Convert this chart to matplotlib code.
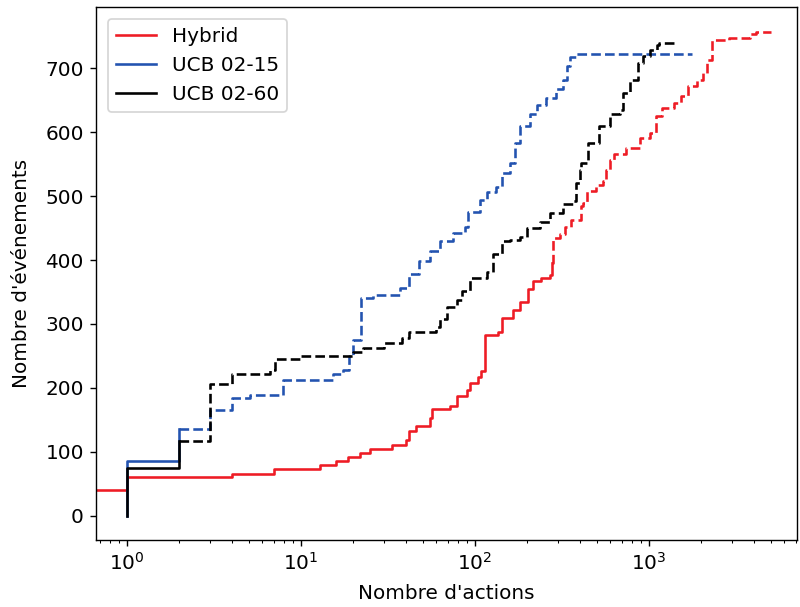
import numpy as np
import matplotlib
matplotlib.use('Agg')
import matplotlib.pyplot as plt

plt.rcParams['font.size'] = 11.5

# Hybrid: solid part then dashed part (step values, steps-post)
hyb_x_solid = [0, 1, 4, 7, 12.8, 16, 18.6, 21.8, 25, 33.5, 40, 42, 46, 55, 57, 71.5, 78.5,
               89.5, 93.5, 104, 109, 114, 135, 144, 165, 181, 201, 216, 240, 270, 279]
hyb_y_solid = [40, 60, 65, 73, 80, 86, 92, 98, 104, 110, 119, 132, 141, 153, 167, 172, 187,
               196, 208, 217, 226, 283, 288, 310, 322, 335, 354, 367, 372, 377, 396]
hyb_x_dash = [279, 280, 307, 330, 358, 405, 418, 438, 498, 545, 570, 595, 630, 740, 888,
              1010, 1103, 1195, 1390, 1530, 1680, 1890, 2040, 2150, 2290, 2890, 3790, 4100, 5000]
hyb_y_dash = [396, 435, 440, 451, 463, 484, 490, 508, 518, 524, 541, 557, 566, 576, 591,
              599, 625, 638, 646, 656, 672, 682, 693, 713, 744, 748, 753, 757, 757]

# UCB 02-15
u15_x_solid = [1, 1, 2]
u15_y_solid = [0, 85, 135]
u15_x_dash = [2, 3, 4, 5.1, 7.9, 15.3, 17.5, 19, 20, 22, 26, 37, 42, 48, 55, 63, 75, 88,
              91, 107, 117, 133, 144, 159, 170, 181, 206, 226, 257, 293, 321, 336, 352, 381, 1780]
u15_y_dash = [135, 166, 184, 189, 213, 222, 228, 250, 275, 341, 346, 356, 378, 399, 414, 429,
              443, 451, 475, 494, 507, 515, 536, 552, 583, 609, 628, 643, 654, 667, 682, 703,
              717, 722, 722]

# UCB 02-60
u60_x_solid = [1, 1, 2]
u60_y_solid = [0, 75, 117]
u60_x_dash = [2, 3, 4, 6.6, 7.1, 10, 20, 22.7, 30, 38, 42, 60, 63, 69, 79, 84, 94, 117, 127,
              144, 160, 181, 198, 237, 270, 321, 365, 381, 400, 408, 447, 518, 595, 680, 705,
              780, 860, 920, 1020, 1120, 1150, 1460]
u60_y_dash = [117, 206, 222, 228, 245, 250, 256, 263, 270, 278, 287, 295, 307, 327, 338, 351,
              372, 381, 410, 429, 432, 436, 450, 460, 474, 487, 492, 520, 541, 552, 583, 609,
              628, 635, 662, 682, 709, 719, 729, 737, 739, 739]

c_red = '#ee1c25'
c_blue = '#2353b0'
c_black = 'black'

fig = plt.figure(figsize=(6.4, 4.856), dpi=125)
ax = fig.add_axes([0.12, 0.1105, 0.876, 0.878])

ax.plot(hyb_x_solid, hyb_y_solid, drawstyle='steps-post', color=c_red, label='Hybrid')
ax.plot(u15_x_solid, u15_y_solid, drawstyle='steps-post', color=c_blue, label='UCB 02-15')
ax.plot(u60_x_solid, u60_y_solid, drawstyle='steps-post', color=c_black, label='UCB 02-60')

ax.plot(hyb_x_dash, hyb_y_dash, drawstyle='steps-post', color=c_red, linestyle='--')
ax.plot(u15_x_dash, u15_y_dash, drawstyle='steps-post', color=c_blue, linestyle='--')
ax.plot(u60_x_dash, u60_y_dash, drawstyle='steps-post', color=c_black, linestyle='--')

ax.set_xscale('log')
ax.set_xlim(10 ** -0.178, 10 ** 3.85)
ax.set_ylim(-37.9, 795.9)
ax.set_yticks([0, 100, 200, 300, 400, 500, 600, 700])

ax.set_xlabel("Nombre d'actions", labelpad=6)
ax.set_ylabel("Nombre d'événements", labelpad=8)
ax.legend(loc='upper left', borderaxespad=0.6)

fig.savefig('out.png', dpi=125)
